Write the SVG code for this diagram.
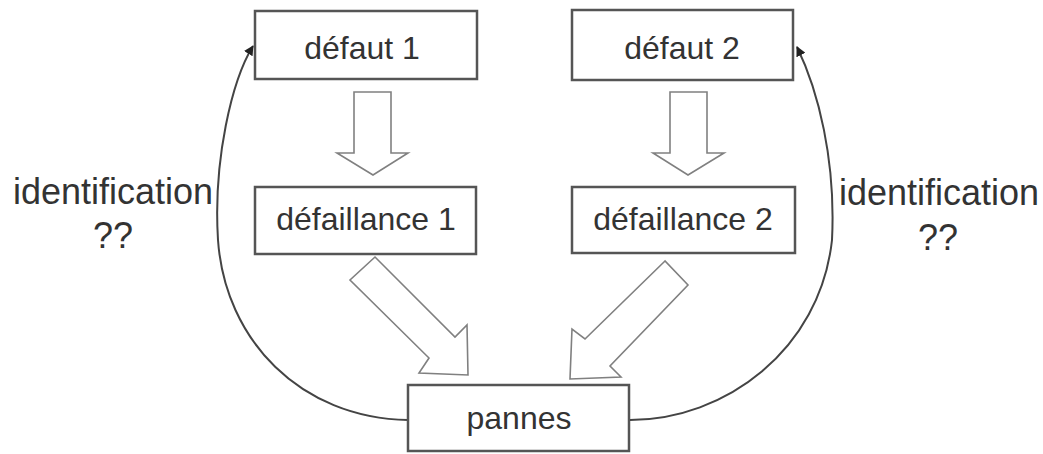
<svg xmlns="http://www.w3.org/2000/svg" width="1043" height="454" viewBox="0 0 1043 454">
  <style>
    .box { fill: #ffffff; stroke: #555555; stroke-width: 2.5; }
    .lbl { font-family: "Liberation Sans", Arial, sans-serif; font-size: 32px; fill: #333333; text-anchor: middle; }
    .side { font-family: "Liberation Sans", Arial, sans-serif; font-size: 36px; fill: #333333; text-anchor: middle; }
    .hollow { fill: #ffffff; stroke: #808080; stroke-width: 1.6; stroke-linejoin: miter; }
    .link { fill: none; stroke: #444444; stroke-width: 2; }
  </style>
  <defs>
    <marker id="tip" viewBox="0 0 10 10" refX="9" refY="5" markerWidth="5" markerHeight="5" orient="auto" markerUnits="strokeWidth">
      <path d="M0,0 L10,5 L0,10 z" fill="#222222"/>
    </marker>
  </defs>
  <rect width="1043" height="454" fill="#ffffff"/>

  <!-- flow arrows and feedback links -->
  <g id="connectors">
    <path class="hollow" d="M354,92 L391,92 L391,153 L408,153 L373,175 L337,153 L354,153 Z"/>
    <path class="hollow" d="M670,92 L707,92 L707,153 L724,153 L688,175 L653,153 L670,153 Z"/>
    <path class="hollow" d="M375,257 L455,337 L467,325 L468,375 L419,373 L429,358 L350,280 Z"/>
    <path class="hollow" d="M665,261 L585,339 L572,329 L570,379 L621,377 L610,366 L688,285 Z"/>
    <path class="link" marker-end="url(#tip)" d="M408,420 C300,418 225,340 218,240 C213,160 232,80 253,46"/>
    <path class="link" marker-end="url(#tip)" d="M630,420 C725,420 820,350 832,240 C836,160 818,90 797,47"/>
  </g>

  <g id="defaut1">
    <rect class="box" x="255" y="11" width="222" height="68"/>
    <text class="lbl" x="362" y="59">défaut 1</text>
  </g>
  <g id="defaut2">
    <rect class="box" x="572" y="10" width="221" height="70"/>
    <text class="lbl" x="682" y="59">défaut 2</text>
  </g>
  <g id="defaillance1">
    <rect class="box" x="255" y="187" width="221" height="67"/>
    <text class="lbl" x="366" y="230">défaillance 1</text>
  </g>
  <g id="defaillance2">
    <rect class="box" x="572" y="187" width="223" height="66"/>
    <text class="lbl" x="683" y="230">défaillance 2</text>
  </g>
  <g id="pannes">
    <rect class="box" x="408" y="385" width="221" height="66"/>
    <text class="lbl" x="519" y="429">pannes</text>
  </g>

  <g id="ident-left">
    <text class="side" x="113" y="204">identification</text>
    <text class="side" x="113" y="248">??</text>
  </g>
  <g id="ident-right">
    <text class="side" x="939" y="205">identification</text>
    <text class="side" x="938" y="250">??</text>
  </g>
</svg>
